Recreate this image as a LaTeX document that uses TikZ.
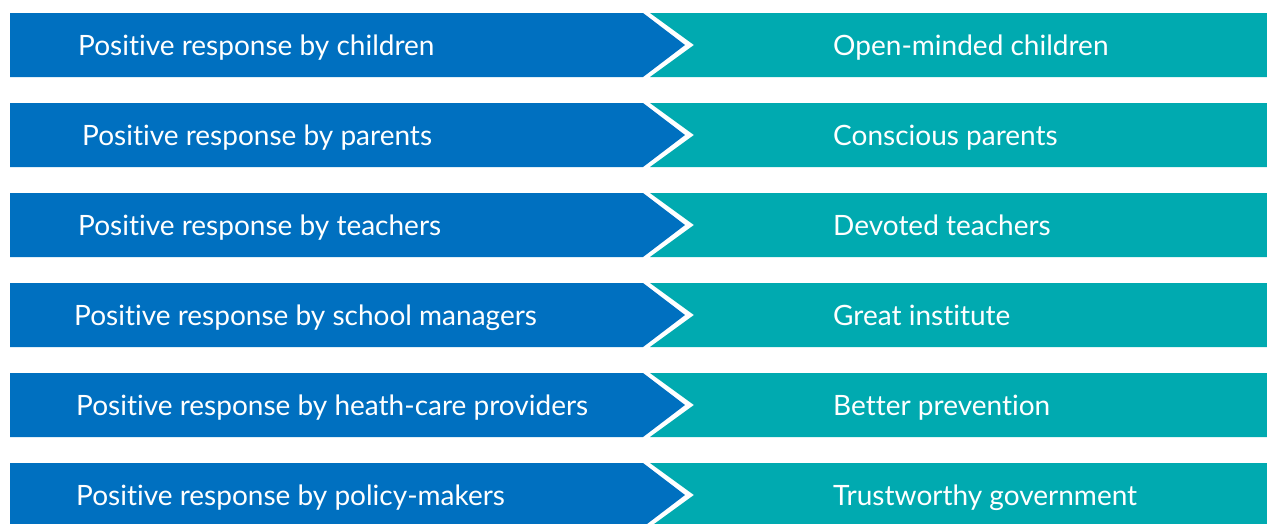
\documentclass[tikz,border=0pt]{standalone}
\usepackage{fontspec}
\setmainfont{Lato}[Ligatures=NoCommon]
\usepackage{tikz}
\definecolor{causeblue}{HTML}{0070C0}
\definecolor{effectteal}{HTML}{00AAB0}
\tikzset{
  cause/.style={ fill=causeblue, draw=none }
}
\tikzset{
  effect/.style={ fill=effectteal, draw=none }
}
\tikzset{
  label/.style={ text=white, anchor=base west, inner sep=0pt, font=\fontsize{28}{32}\selectfont }
}

\begin{document}
\begin{tikzpicture}[x=1pt, y=-1pt]
  \useasboundingbox (0, 0) rectangle (1267, 523);
  \clip (0, 0) rectangle (1267, 523);
  \fill[white] (0, 0) rectangle (1267, 523);
  \foreach \i/\lx/\cause/\effect in {
      0/78/{Positive response by children}/{Open-minded children},
      1/82/{Positive response by parents}/{Conscious parents},
      2/78/{Positive response by teachers}/{Devoted teachers},
      3/74/{Positive response by school managers}/{Great institute},
      4/76/{Positive response by heath-care providers}/{Better prevention},
      5/76/{Positive response by policy-makers}/{Trustworthy government}} {
    \pgfmathsetmacro\t{13 + 90*\i}
    % arrow on the left, notched band on the right
    \fill[cause] (10, \t) -- (643, \t) -- (685, \t+32) -- (643, \t+64) -- (10, \t+64) -- cycle;
    \fill[effect] (650, \t) -- (1267, \t) -- (1267, \t+64) -- (650, \t+64) -- (694, \t+32) -- cycle;
    \node[label] (cause\i) at (\lx, \t+42) {\cause};
    \node[label] (effect\i) at (833, \t+42) {\effect};
  }
\end{tikzpicture}
\end{document}
